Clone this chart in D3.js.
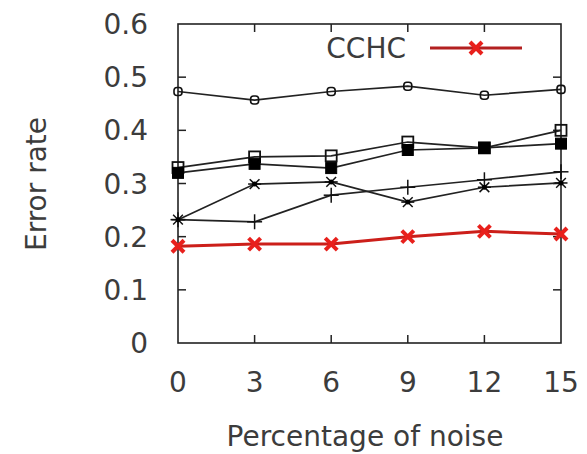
<!DOCTYPE html>
<html>
<head>
<meta charset="utf-8">
<script src="https://cdn.jsdelivr.net/npm/d3@7"></script>
<style>
  body { margin: 0; background: #fff; }
  text { font-family: "DejaVu Sans", sans-serif; fill: #3c3c3c; }
</style>
</head>
<body>
<script>
// Data
var noise = [0, 3, 6, 9, 12, 15];
var yTicks = [0, 0.1, 0.2, 0.3, 0.4, 0.5, 0.6];
var topSeries = [0.473, 0.457, 0.473, 0.483, 0.466, 0.477];
var openSquares = [0.330, 0.350, 0.352, 0.378, 0.367, 0.400];
var filledSquares = [0.320, 0.337, 0.329, 0.363, 0.367, 0.375];
var stars = [0.232, 0.299, 0.303, 0.265, 0.293, 0.301];
var pluses = [0.232, 0.228, 0.278, 0.293, 0.307, 0.322];
var cchc = [0.182, 0.186, 0.186, 0.200, 0.210, 0.205];

var width = 587, height = 454;
var svg = d3.select("body").append("svg")
    .attr("width", width)
    .attr("height", height);

var x = d3.scaleLinear().domain([0, 15]).range([178, 561]);
var y = d3.scaleLinear().domain([0, 0.6]).range([343, 24]);

var tickLen = 8;
var axisColor = "#222";

// Frame
svg.append("rect")
    .attr("x", x(0)).attr("y", y(0.6))
    .attr("width", x(15) - x(0)).attr("height", y(0) - y(0.6))
    .attr("fill", "none").attr("stroke", axisColor).attr("stroke-width", 1.6);

// Inner ticks on all four sides
var yInner = yTicks.slice(1, -1);
svg.selectAll(".ytl").data(yInner).enter().append("line")
    .attr("x1", x(0)).attr("x2", x(0) + tickLen)
    .attr("y1", function(d) { return y(d); }).attr("y2", function(d) { return y(d); })
    .attr("stroke", axisColor).attr("stroke-width", 1.5);
svg.selectAll(".ytr").data(yInner).enter().append("line")
    .attr("x1", x(15)).attr("x2", x(15) - tickLen)
    .attr("y1", function(d) { return y(d); }).attr("y2", function(d) { return y(d); })
    .attr("stroke", axisColor).attr("stroke-width", 1.5);
var xInner = noise.slice(1, -1);
svg.selectAll(".xtb").data(xInner).enter().append("line")
    .attr("x1", function(d) { return x(d); }).attr("x2", function(d) { return x(d); })
    .attr("y1", y(0)).attr("y2", y(0) - tickLen)
    .attr("stroke", axisColor).attr("stroke-width", 1.5);
svg.selectAll(".xtt").data(xInner).enter().append("line")
    .attr("x1", function(d) { return x(d); }).attr("x2", function(d) { return x(d); })
    .attr("y1", y(0.6)).attr("y2", y(0.6) + tickLen)
    .attr("stroke", axisColor).attr("stroke-width", 1.5);

// Tick labels
svg.selectAll(".ylab").data(yTicks).enter().append("text")
    .attr("x", 148)
    .attr("y", function(d) { return y(d) + 10; })
    .attr("text-anchor", "end")
    .attr("font-size", 28)
    .text(function(d) { return d === 0 ? "0" : d3.format(".1f")(d); });
svg.selectAll(".xlab").data(noise).enter().append("text")
    .attr("x", function(d) { return x(d); })
    .attr("y", 392)
    .attr("text-anchor", "middle")
    .attr("font-size", 28)
    .text(function(d) { return d; });

// Axis titles
svg.append("text")
    .attr("x", 365).attr("y", 446)
    .attr("text-anchor", "middle")
    .attr("font-size", 28)
    .text("Percentage of noise");
svg.append("text")
    .attr("transform", "translate(46,184) rotate(-90)")
    .attr("text-anchor", "middle")
    .attr("font-size", 28)
    .text("Error rate");

// Marker drawers
function drawOpenCircle(g, s) {
    g.append("rect").attr("x", -s / 2).attr("y", -s / 2).attr("width", s).attr("height", s)
        .attr("rx", 3).attr("fill", "none")
        .attr("stroke", "#111").attr("stroke-width", 1.6);
}
function drawOpenSquare(g, s) {
    g.append("rect").attr("x", -s / 2).attr("y", -s / 2).attr("width", s).attr("height", s)
        .attr("fill", "none").attr("stroke", "#111").attr("stroke-width", 1.8);
}
function drawFilledSquare(g, s) {
    g.append("rect").attr("x", -s / 2).attr("y", -s / 2).attr("width", s).attr("height", s)
        .attr("fill", "#000").attr("stroke", "#000").attr("stroke-width", 1);
}
function drawStar(g, s) {
    var h = s / 2, d = h * 0.75;
    var segs = [[-h, 0, h, 0], [-d, -d, d, d], [-d, d, d, -d]];
    segs.forEach(function(p) {
        g.append("line").attr("x1", p[0]).attr("y1", p[1]).attr("x2", p[2]).attr("y2", p[3])
            .attr("stroke", "#111").attr("stroke-width", 1.5);
    });
    g.append("circle").attr("r", 2.5).attr("fill", "#000");
}
function drawPlus(g, s) {
    var h = s / 2;
    g.append("line").attr("x1", -h).attr("x2", h).attr("y1", 0).attr("y2", 0)
        .attr("stroke", "#111").attr("stroke-width", 1.5);
    g.append("line").attr("x1", 0).attr("x2", 0).attr("y1", -h).attr("y2", h)
        .attr("stroke", "#111").attr("stroke-width", 1.5);
}
function drawCross(g, s, color) {
    var h = s / 2;
    g.append("line").attr("x1", -h).attr("y1", -h).attr("x2", h).attr("y2", h)
        .attr("stroke", color).attr("stroke-width", 4);
    g.append("line").attr("x1", -h).attr("y1", h).attr("x2", h).attr("y2", -h)
        .attr("stroke", color).attr("stroke-width", 4);
}

var line = d3.line()
    .x(function(d, i) { return x(noise[i]); })
    .y(function(d) { return y(d); });

function plotSeries(values, color, lw, marker) {
    svg.append("path")
        .datum(values)
        .attr("d", line)
        .attr("fill", "none")
        .attr("stroke", color)
        .attr("stroke-width", lw);
    values.forEach(function(v, i) {
        var g = svg.append("g").attr("transform", "translate(" + x(noise[i]) + "," + y(v) + ")");
        marker(g);
    });
}

plotSeries(topSeries, "#222", 1.7, function(g) { drawOpenCircle(g, 8); });
plotSeries(pluses, "#222", 1.7, function(g) { drawPlus(g, 15); });
plotSeries(stars, "#222", 1.7, function(g) { drawStar(g, 13); });
plotSeries(openSquares, "#222", 1.7, function(g) { drawOpenSquare(g, 11); });
plotSeries(filledSquares, "#222", 1.7, function(g) { drawFilledSquare(g, 11); });
plotSeries(cchc, "#cc1f1a", 3, function(g) { drawCross(g, 12, "#e8201c"); });

// Legend
svg.append("text")
    .attr("x", 406).attr("y", 58)
    .attr("text-anchor", "end")
    .attr("font-size", 28)
    .text("CCHC");
svg.append("line")
    .attr("x1", 430).attr("x2", 522).attr("y1", 48).attr("y2", 48)
    .attr("stroke", "#b32020").attr("stroke-width", 3);
drawCross(svg.append("g").attr("transform", "translate(476,48)"), 12, "#e8201c");
</script>
</body>
</html>
